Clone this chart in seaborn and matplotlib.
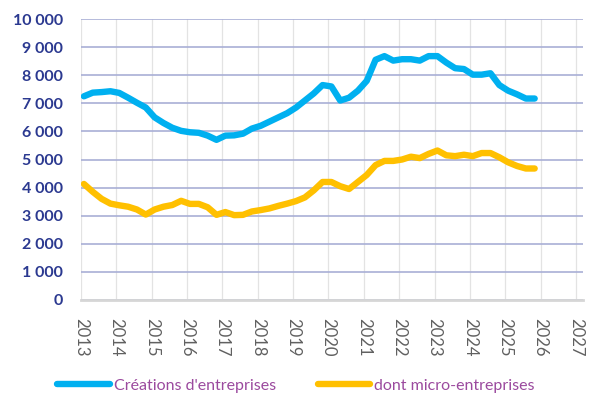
import pandas as pd
import seaborn as sns
import matplotlib.pyplot as plt
from matplotlib.ticker import FuncFormatter

# Données trimestrielles (2013T1 - 2025T4)
trimestres = pd.period_range('2013Q1', '2025Q4', freq='Q')
creations = [7250, 7380, 7400, 7430, 7370, 7200, 7020, 6850, 6500, 6300,
             6130, 6020, 5970, 5950, 5850, 5700, 5850, 5860, 5920, 6100,
             6200, 6350, 6500, 6650, 6850, 7100, 7350, 7650, 7600, 7100,
             7200, 7450, 7800, 8550, 8680, 8520, 8570, 8570, 8520, 8680,
             8680, 8450, 8250, 8220, 8020, 8020, 8070, 7650, 7450, 7320,
             7170, 7170]
micro = [4130, 3850, 3600, 3430, 3370, 3320, 3220, 3040, 3220, 3320,
         3380, 3530, 3420, 3420, 3300, 3030, 3130, 3020, 3030, 3150,
         3200, 3260, 3350, 3430, 3520, 3650, 3900, 4200, 4200, 4050,
         3950, 4200, 4450, 4800, 4950, 4950, 5000, 5100, 5050, 5200,
         5320, 5150, 5120, 5170, 5120, 5230, 5230, 5080, 4900, 4770,
         4680, 4680]
annees = list(range(2013, 2028))

serie_labels = ["Créations d'entreprises", "dont micro-entreprises"]
couleurs = ['#00B0F0', '#FFC000']

# position approx. de chaque trimestre sur l'axe des années
x_annee = [p.year + (p.quarter - 1) * 0.25 + 0.083 for p in trimestres]

df = pd.DataFrame({'annee': x_annee * 2,
                   'valeur': creations + micro,
                   'serie': [serie_labels[0]] * len(creations) + [serie_labels[1]] * len(micro)})

sns.set_style('white')
plt.rcParams['font.family'] = ['Lato', 'DejaVu Sans']

fig = plt.figure(figsize=(5.92, 4.05), dpi=100)
ax = fig.add_axes([0.1368, 0.2593, 0.848, 0.6937])

sns.lineplot(data=df, x='annee', y='valeur', hue='serie', palette=couleurs,
             linewidth=4.6, ax=ax, legend=False, solid_capstyle='round')

ax.set_xlim(2013, 2027.2)
ax.set_ylim(0, 10000)
ax.set_xticks(annees)
ax.set_yticks(range(0, 10001, 1000))
ax.yaxis.set_major_formatter(FuncFormatter(lambda v, p: f'{int(v):,}'.replace(',', ' ')))
ax.set_xlabel('')
ax.set_ylabel('')

ax.grid(axis='y', color='#A9AFD6', linewidth=1.2)
ax.grid(axis='x', color='#E3E3E3', linewidth=0.9)
ax.set_axisbelow(True)

for s in ['top', 'right', 'left']:
    ax.spines[s].set_visible(False)
ax.spines['bottom'].set_color('#D6D6D6')
ax.spines['bottom'].set_linewidth(2)

ax.tick_params(axis='y', length=0, pad=13, labelsize=11.5, labelcolor='#2B3990')
for lab in ax.get_yticklabels():
    lab.set_fontweight('bold')
ax.tick_params(axis='x', length=5, width=1.5, color='#D6D6D6', pad=8,
               labelsize=12, labelcolor='#606060', labelrotation=-90)

handles = [plt.Line2D([], [], color=c, linewidth=4.6, solid_capstyle='round') for c in couleurs]
leg = fig.legend(handles, serie_labels, loc='lower center', ncol=2, frameon=False,
                 bbox_to_anchor=(0.5, -0.005), handlelength=3.3, columnspacing=2.6,
                 handletextpad=0.25, fontsize=11.5)
for t in leg.get_texts():
    t.set_color('#9B4A9E')

fig.savefig('out.png', dpi=100)
